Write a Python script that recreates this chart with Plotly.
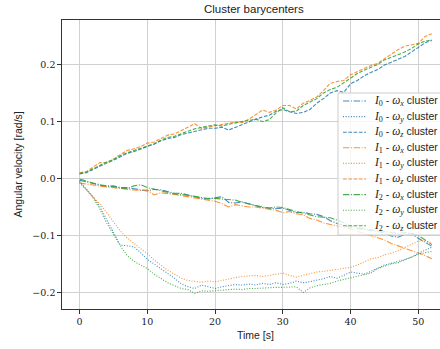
import plotly.graph_objects as go

t = list(range(0, 53))

# omega_z (dashed) -- upper group
i0_wz = [0.008,0.010,0.016,0.022,0.027,0.032,0.038,0.044,0.047,0.052,0.056,0.060,0.066,0.070,0.072,0.077,0.080,0.083,0.086,0.088,0.088,0.090,0.085,0.090,0.095,0.099,0.104,0.108,0.111,0.118,0.121,0.117,0.114,0.116,0.121,0.132,0.140,0.150,0.154,0.151,0.166,0.172,0.180,0.186,0.191,0.199,0.204,0.210,0.214,0.222,0.230,0.238,0.242]
i1_wz = [0.010,0.012,0.020,0.028,0.027,0.034,0.042,0.049,0.052,0.056,0.062,0.064,0.070,0.076,0.078,0.084,0.090,0.096,0.088,0.090,0.092,0.094,0.097,0.099,0.098,0.104,0.112,0.120,0.116,0.120,0.128,0.128,0.122,0.132,0.137,0.143,0.154,0.167,0.170,0.172,0.182,0.188,0.193,0.198,0.202,0.210,0.218,0.226,0.232,0.235,0.237,0.249,0.254]
i2_wz = [0.009,0.011,0.017,0.023,0.029,0.033,0.040,0.045,0.049,0.054,0.058,0.061,0.067,0.072,0.074,0.079,0.083,0.087,0.090,0.092,0.094,0.092,0.095,0.098,0.100,0.102,0.104,0.100,0.103,0.115,0.124,0.117,0.118,0.128,0.134,0.140,0.150,0.156,0.160,0.168,0.176,0.184,0.190,0.195,0.200,0.208,0.212,0.217,0.222,0.228,0.236,0.241,0.243]

# omega_x (dash-dot) -- middle group
i0_wx = [-0.003,-0.006,-0.010,-0.012,-0.014,-0.013,-0.016,-0.016,-0.018,-0.020,-0.022,-0.019,-0.020,-0.023,-0.026,-0.026,-0.029,-0.032,-0.035,-0.036,-0.034,-0.032,-0.042,-0.043,-0.041,-0.045,-0.048,-0.051,-0.052,-0.053,-0.052,-0.056,-0.060,-0.059,-0.062,-0.063,-0.067,-0.074,-0.079,-0.082,-0.086,-0.088,-0.090,-0.092,-0.093,-0.095,-0.101,-0.103,-0.098,-0.097,-0.105,-0.112,-0.119]
i1_wx = [-0.008,-0.010,-0.012,-0.014,-0.015,-0.016,-0.018,-0.019,-0.020,-0.021,-0.020,-0.029,-0.025,-0.026,-0.028,-0.030,-0.032,-0.034,-0.036,-0.038,-0.040,-0.044,-0.050,-0.046,-0.048,-0.050,-0.050,-0.052,-0.054,-0.056,-0.060,-0.058,-0.062,-0.064,-0.070,-0.073,-0.078,-0.081,-0.083,-0.086,-0.088,-0.093,-0.096,-0.100,-0.103,-0.108,-0.114,-0.118,-0.122,-0.127,-0.131,-0.135,-0.141]
i2_wx = [-0.001,-0.005,-0.008,-0.011,-0.013,-0.014,-0.016,-0.018,-0.013,-0.011,-0.016,-0.019,-0.022,-0.025,-0.027,-0.028,-0.030,-0.032,-0.034,-0.035,-0.035,-0.036,-0.037,-0.038,-0.042,-0.045,-0.047,-0.050,-0.052,-0.050,-0.051,-0.055,-0.058,-0.061,-0.064,-0.067,-0.068,-0.069,-0.073,-0.078,-0.083,-0.086,-0.088,-0.090,-0.091,-0.093,-0.095,-0.096,-0.095,-0.096,-0.100,-0.108,-0.116]

# omega_y (dotted) -- lower group
i0_wy = [-0.006,-0.020,-0.032,-0.050,-0.072,-0.095,-0.117,-0.118,-0.120,-0.130,-0.142,-0.150,-0.158,-0.166,-0.175,-0.185,-0.190,-0.193,-0.187,-0.190,-0.193,-0.190,-0.188,-0.186,-0.187,-0.185,-0.187,-0.184,-0.186,-0.183,-0.186,-0.184,-0.180,-0.183,-0.181,-0.179,-0.176,-0.172,-0.175,-0.170,-0.164,-0.166,-0.168,-0.163,-0.158,-0.152,-0.149,-0.146,-0.142,-0.138,-0.131,-0.126,-0.120]
i1_wy = [-0.008,-0.020,-0.032,-0.045,-0.060,-0.075,-0.092,-0.104,-0.114,-0.123,-0.132,-0.143,-0.152,-0.161,-0.168,-0.175,-0.179,-0.181,-0.182,-0.180,-0.181,-0.179,-0.176,-0.174,-0.172,-0.171,-0.170,-0.172,-0.170,-0.168,-0.166,-0.170,-0.173,-0.170,-0.167,-0.164,-0.163,-0.161,-0.159,-0.157,-0.156,-0.152,-0.146,-0.141,-0.139,-0.134,-0.131,-0.127,-0.121,-0.116,-0.110,-0.109,-0.114]
i2_wy = [-0.004,-0.018,-0.034,-0.054,-0.078,-0.098,-0.118,-0.135,-0.145,-0.152,-0.158,-0.168,-0.176,-0.183,-0.188,-0.193,-0.195,-0.202,-0.197,-0.198,-0.197,-0.196,-0.196,-0.194,-0.195,-0.193,-0.193,-0.192,-0.192,-0.191,-0.191,-0.190,-0.190,-0.200,-0.192,-0.188,-0.186,-0.184,-0.180,-0.177,-0.175,-0.172,-0.168,-0.166,-0.158,-0.154,-0.150,-0.148,-0.143,-0.138,-0.133,-0.130,-0.128]

tick_x = [0, 10, 20, 30, 40, 50]
tick_y = [-0.2, -0.1, 0.0, 0.1, 0.2]

blue, orange, green = "#1f77b4", "#ff7f0e", "#2ca02c"
DASHDOT = "6.4px,1.6px,1px,1.6px"
DOTTED = "1px,1.65px"
DASHED = "3.7px,1.6px"

SER = "font-family:'Liberation Serif';font-size:11.5px"
def lbl(i, comp):
    return (f"<span style=\"{SER}\"><i>I</i><sub>{i}</sub></span> - "
            f"<span style=\"{SER}\"><i>ω</i><sub><i>{comp}</i></sub></span> cluster")

series = [
    (i0_wx, blue, DASHDOT, lbl(0, "x")),
    (i0_wy, blue, DOTTED, lbl(0, "y")),
    (i0_wz, blue, DASHED, lbl(0, "z")),
    (i1_wx, orange, DASHDOT, lbl(1, "x")),
    (i1_wy, orange, DOTTED, lbl(1, "y")),
    (i1_wz, orange, DASHED, lbl(1, "z")),
    (i2_wx, green, DASHDOT, lbl(2, "x")),
    (i2_wy, green, DOTTED, lbl(2, "y")),
    (i2_wz, green, DASHED, lbl(2, "z")),
]

L, R, T, B = 62, 0, 20, 40
W, H = 440, 349
pw, ph = W - L - R, H - T - B
px = lambda x: (x - L) / pw          # pixel -> paper x
py = lambda y: 1 - (y - T) / ph      # pixel -> paper y

fig = go.Figure()
for y, c, d, name in series:
    fig.add_trace(go.Scatter(x=t, y=y, mode="lines", name=name, opacity=0.85,
                             showlegend=False,
                             line=dict(color=c, dash=d, width=1.1)))

# legend drawn as a framed box (matplotlib style, compact rows)
shapes = [dict(type="rect", xref="paper", yref="paper", layer="above",
               x0=px(338), x1=px(448), y0=py(235), y1=py(93),
               fillcolor="rgba(255,255,255,0.8)",
               line=dict(color="#cccccc", width=1))]
annots = []
row0, step = 101, 15.6
for k, (_, c, d, name) in enumerate(series):
    yc = row0 + k * step
    shapes.append(dict(type="line", xref="paper", yref="paper", layer="above",
                       x0=px(343), x1=px(366), y0=py(yc), y1=py(yc),
                       opacity=0.85, line=dict(color=c, dash=d, width=1.1)))
    annots.append(dict(text=name, xref="paper", yref="paper", x=px(372), y=py(yc),
                       xanchor="left", yanchor="middle", showarrow=False,
                       font=dict(family="Liberation Sans", size=10.5, color="#222")))

SANS = "Liberation Sans"
fig.update_layout(
    width=W, height=H,
    margin=dict(l=L, r=R, t=T, b=B, pad=0),
    paper_bgcolor="white", plot_bgcolor="white",
    font=dict(family=SANS, size=10, color="#222"),
    showlegend=False,
    shapes=shapes,
    xaxis=dict(range=[-2.6, 53.2], tickvals=tick_x,
               showgrid=True, gridcolor="#d0d0d0", gridwidth=1.3,
               zeroline=False, showline=True, linecolor="#333", linewidth=1.3,
               mirror=True, ticks="outside", ticklen=3.5, tickcolor="#333",
               tickfont=dict(family="DejaVu Serif", size=9.5, color="#222")),
    yaxis=dict(range=[-0.229, 0.278], tickvals=tick_y,
               tickformat=".1f",
               showgrid=True, gridcolor="#d0d0d0", gridwidth=1.3,
               zeroline=False, showline=True, linecolor="#333", linewidth=1.3,
               mirror=False, ticks="outside", ticklen=3.5, tickcolor="#333",
               tickfont=dict(family="DejaVu Serif", size=9.5, color="#222")),
    annotations=annots + [
        dict(text="Cluster barycenters", xref="paper", yref="paper",
             x=px(254), y=py(9), xanchor="center", yanchor="middle",
             showarrow=False, font=dict(family=SANS, size=11.5, color="#222")),
        dict(text="Time [s]", xref="paper", yref="paper",
             x=px(255), y=py(335), xanchor="center", yanchor="middle",
             showarrow=False, font=dict(family=SANS, size=10.5, color="#222")),
        dict(text="Angular velocity [rad/s]", xref="paper", yref="paper",
             x=px(17), y=0.5, xanchor="center", yanchor="middle", textangle=-90,
             showarrow=False, font=dict(family=SANS, size=10.5, color="#222")),
    ],
)

fig.write_html("out.html")
